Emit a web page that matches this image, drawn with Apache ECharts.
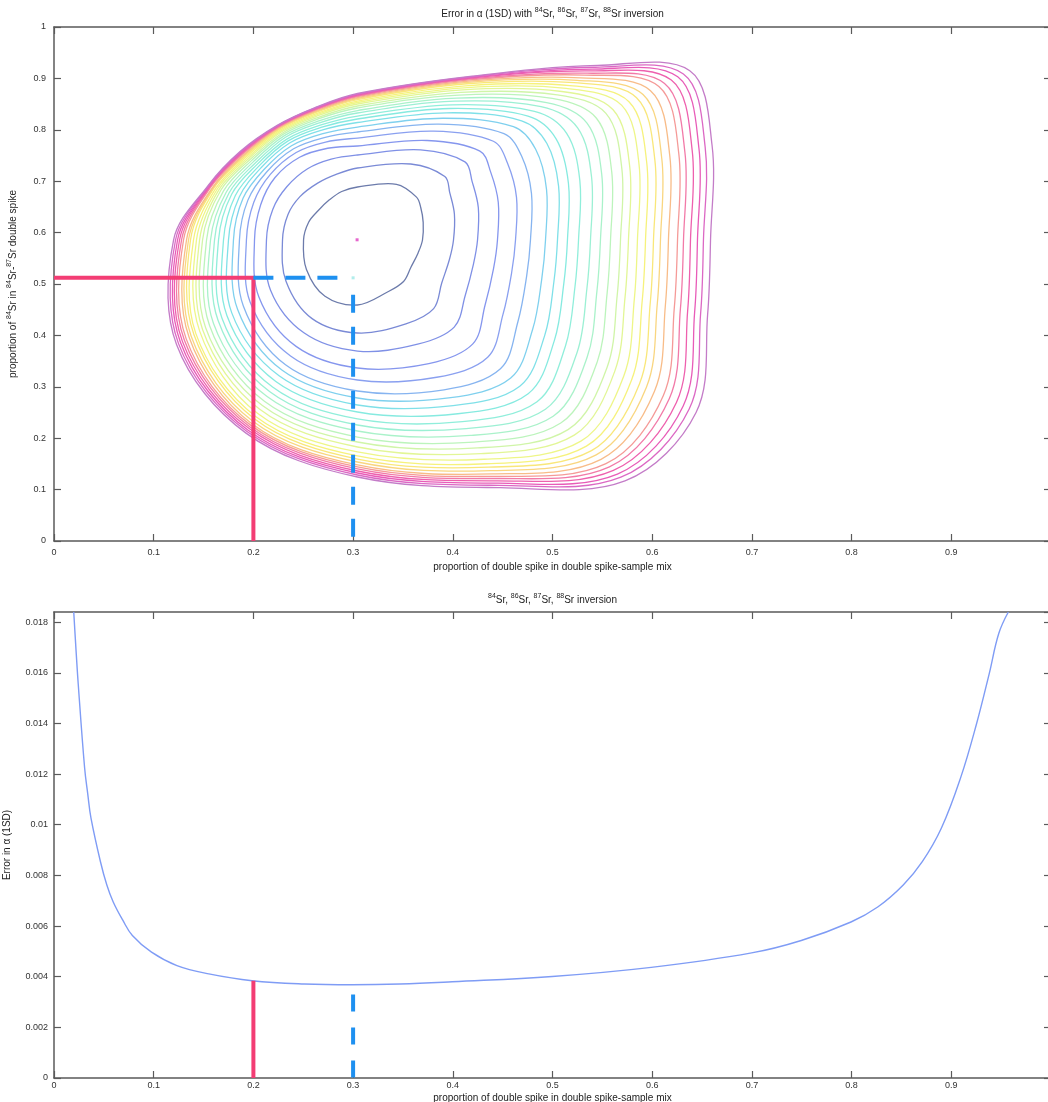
<!DOCTYPE html>
<html><head><meta charset="utf-8">
<script src="https://cdn.jsdelivr.net/npm/echarts@6/dist/echarts.min.js"></script>
<style>html,body{margin:0;padding:0;background:#fff}#c{width:1048px;height:1102px}</style>
</head><body><div id="c"></div>
<script>
// ================= DATA =================
// Top panel: contour lines of the error surface, sampled along rays from the minimum.
// Each array holds, for contour 1 (innermost) .. 26 (outermost), the coordinate where
// the contour crosses that ray (X arrays: x value, Y arrays: y value).
const surfaceMinimum = [0.304, 0.586];
const rayOrigin = [0.3044, 0.5856];
const ray000X = [0.3696,0.4007,0.4248,0.4448,0.4629,0.4779,0.4930,0.5050,0.5150,0.5261,0.5381,0.5481,0.5582,0.5682,0.5762,0.5852,0.5933,0.6013,0.6083,0.6163,0.6254,0.6314,0.6384,0.6454,0.6514,0.6585];
const ray015X = [0.3703,0.4016,0.4256,0.4456,0.4639,0.4789,0.4940,0.5061,0.5160,0.5274,0.5392,0.5494,0.5594,0.5696,0.5775,0.5868,0.5945,0.6027,0.6096,0.6177,0.6267,0.6328,0.6401,0.6469,0.6531,0.6600];
const ray027X = [0.3679,0.3970,0.4194,0.4380,0.4550,0.4691,0.4831,0.4944,0.5036,0.5142,0.5252,0.5346,0.5441,0.5536,0.5608,0.5695,0.5767,0.5843,0.5908,0.5983,0.6067,0.6124,0.6192,0.6256,0.6313,0.6377];
const ray036X = [0.3636,0.3920,0.4122,0.4272,0.4407,0.4513,0.4608,0.4690,0.4754,0.4819,0.4885,0.4941,0.4998,0.5048,0.5094,0.5137,0.5176,0.5216,0.5249,0.5283,0.5321,0.5347,0.5378,0.5403,0.5429,0.5454];
const ray055Y = [0.6940,0.7335,0.7609,0.7792,0.7975,0.8111,0.8225,0.8331,0.8414,0.8485,0.8557,0.8617,0.8676,0.8727,0.8777,0.8816,0.8856,0.8896,0.8923,0.8947,0.8971,0.8989,0.9008,0.9019,0.9032,0.9043];
const ray090Y = [0.6887,0.7257,0.7510,0.7685,0.7840,0.7957,0.8054,0.8142,0.8210,0.8268,0.8327,0.8375,0.8424,0.8463,0.8502,0.8531,0.8560,0.8589,0.8609,0.8628,0.8648,0.8661,0.8677,0.8687,0.8696,0.8706];
const ray108Y = [0.6800,0.7133,0.7429,0.7641,0.7762,0.7850,0.7926,0.7993,0.8045,0.8089,0.8134,0.8172,0.8211,0.8239,0.8270,0.8293,0.8315,0.8339,0.8354,0.8367,0.8383,0.8393,0.8406,0.8413,0.8420,0.8428];
const ray125Y = [0.6637,0.6963,0.7242,0.7465,0.7559,0.7631,0.7690,0.7743,0.7784,0.7819,0.7856,0.7886,0.7915,0.7939,0.7962,0.7980,0.7998,0.8017,0.8028,0.8039,0.8052,0.8058,0.8069,0.8074,0.8080,0.8087];
const ray143X = [0.2651,0.2467,0.2335,0.2215,0.2170,0.2135,0.2106,0.2079,0.2057,0.2037,0.2019,0.2001,0.1984,0.1969,0.1956,0.1944,0.1932,0.1922,0.1913,0.1906,0.1896,0.1890,0.1884,0.1877,0.1872,0.1866];
const ray160X = [0.2554,0.2346,0.2195,0.2073,0.2004,0.1945,0.1896,0.1858,0.1819,0.1782,0.1754,0.1727,0.1699,0.1673,0.1655,0.1638,0.1622,0.1605,0.1598,0.1591,0.1576,0.1569,0.1563,0.1556,0.1550,0.1545];
const ray180X = [0.2503,0.2292,0.2131,0.2011,0.1930,0.1860,0.1800,0.1750,0.1700,0.1650,0.1610,0.1570,0.1530,0.1490,0.1460,0.1429,0.1399,0.1369,0.1349,0.1329,0.1299,0.1279,0.1259,0.1239,0.1219,0.1199];
const ray210X = [0.2532,0.2327,0.2172,0.2055,0.1967,0.1899,0.1841,0.1782,0.1734,0.1685,0.1646,0.1599,0.1560,0.1521,0.1490,0.1461,0.1422,0.1403,0.1375,0.1355,0.1326,0.1307,0.1287,0.1268,0.1248,0.1229];
const ray240Y = [0.4761,0.4326,0.4050,0.3787,0.3600,0.3430,0.3320,0.3214,0.3105,0.2995,0.2903,0.2810,0.2719,0.2640,0.2562,0.2485,0.2424,0.2379,0.2330,0.2286,0.2254,0.2224,0.2192,0.2160,0.2131,0.2099];
const ray270Y = [0.4591,0.4047,0.3696,0.3366,0.3132,0.2918,0.2782,0.2646,0.2510,0.2374,0.2257,0.2140,0.2023,0.1926,0.1829,0.1732,0.1654,0.1595,0.1537,0.1479,0.1440,0.1401,0.1362,0.1323,0.1284,0.1245];
const ray300Y = [0.4845,0.4225,0.3829,0.3452,0.3186,0.2941,0.2785,0.2633,0.2476,0.2321,0.2188,0.2053,0.1925,0.1811,0.1700,0.1590,0.1503,0.1437,0.1369,0.1304,0.1258,0.1216,0.1171,0.1125,0.1083,0.1037];
const ray318X = [0.3506,0.3808,0.4014,0.4201,0.4350,0.4478,0.4581,0.4672,0.4756,0.4845,0.4929,0.5007,0.5083,0.5156,0.5218,0.5285,0.5340,0.5391,0.5438,0.5487,0.5536,0.5571,0.5611,0.5651,0.5686,0.5727];
const ray333X = [0.3580,0.3889,0.4126,0.4324,0.4504,0.4653,0.4801,0.4922,0.5019,0.5130,0.5248,0.5348,0.5448,0.5548,0.5625,0.5716,0.5794,0.5873,0.5942,0.6023,0.6111,0.6171,0.6243,0.6311,0.6371,0.6440];
const ray348X = [0.3652,0.3966,0.4206,0.4408,0.4590,0.4741,0.4892,0.5014,0.5113,0.5226,0.5345,0.5446,0.5548,0.5649,0.5728,0.5821,0.5900,0.5981,0.6051,0.6132,0.6222,0.6283,0.6356,0.6426,0.6486,0.6556];

// Chosen / optimal mixture markers
const chosenMix = [0.2];          // red
const optimalMix = [0.3];         // blue dashed
const spikeProportion = [0.512];  // horizontal guide in top panel
const optimalGuideEndX = [0.288];
const optimalGuideStartY = [0.479];

// Bottom panel: error curve
const curveX = [0.0198,0.0217,0.0243,0.0307,0.0339,0.0371,0.0466,0.053,0.0594,0.069,0.0786,0.0978,0.1233,0.1553,0.1987,0.2511,0.299,0.347,0.3994,0.4997,0.599,0.6997,0.7495,0.7994,0.8262,0.8518,0.8709,0.8901,0.9093,0.9252,0.938,0.9476,0.9572];
const curveY = [0.0184,0.01715,0.01556,0.01225,0.0112,0.01026,0.00854,0.00762,0.00695,0.00623,0.00563,0.00497,0.00444,0.00411,0.00384,0.00371,0.00368,0.00371,0.0038,0.00401,0.00437,0.00494,0.00543,0.00616,0.00675,0.00762,0.00854,0.00987,0.01185,0.01397,0.01596,0.01755,0.0184];
const errorAtChosen = [0.00384];
const errorGuideTopOptimal = [0.0033];

// Axis ticks
const topYMax = 1, topYStep = 0.1;
const botYMax = 0.0184, botYStep = 0.002;
const xMax = 1, xStep = 0.1;

// ================= BUILD =================
const contourColors = ['#6c7bab','#7a8ad6','#7f90e6','#8596ee','#8aa0f0','#86b4f0','#7fd0ee','#7fe0e8','#86eae0','#90eedb','#9cf0d4','#aaf2ca','#bcf4bc','#d0f5a8','#e2f696','#eef688','#f6f27c','#f9e77a','#f9d680','#f8bc88','#f59a98','#f27aa8','#ee60ae','#e85cb8','#dc68c4','#c47cc8'];

// sampling rays (construction geometry): coordinate stored + data-space slope
const rays = [
  {v: ray000X, c:'x', m: 0},
  {v: ray015X, c:'x', m: 0.5197},
  {v: ray027X, c:'x', m: 0.9883},
  {v: ray036X, c:'x', m: 1.4092},
  {v: ray055Y, c:'y', m: 2.7702},
  {v: ray090Y, c:'v'},
  {v: ray108Y, c:'y', m: -5.9698},
  {v: ray125Y, c:'y', m: -2.7702},
  {v: ray143X, c:'x', m: -1.4617},
  {v: ray160X, c:'x', m: -0.7060},
  {v: ray180X, c:'x', m: 0},
  {v: ray210X, c:'x', m: 1.1199},
  {v: ray240Y, c:'y', m: 3.3597},
  {v: ray270Y, c:'v'},
  {v: ray300Y, c:'y', m: -3.3597},
  {v: ray318X, c:'x', m: -1.7465},
  {v: ray333X, c:'x', m: -0.9883},
  {v: ray348X, c:'x', m: -0.4123}
];
function contourPoints(k) {
  return rays.map(r => {
    const val = r.v[k];
    if (r.c === 'v') return [rayOrigin[0], val];
    if (r.c === 'x') return [val, rayOrigin[1] + r.m * (val - rayOrigin[0])];
    return [rayOrigin[0] + (val - rayOrigin[1]) / r.m, val];
  });
}

const FONT = '"Liberation Sans", Arial, sans-serif';
const AX = '#5a5a5a';
const sup = { s: { fontSize: 7, lineHeight: 8, verticalAlign: 'top', fontFamily: FONT, color: '#222' } };

function baseAxis(o) {
  return Object.assign({
    type: 'value',
    axisLine: { show: true, onZero: false, lineStyle: { color: AX, width: 1.5 } },
    axisTick: { show: true, inside: true, length: 7, lineStyle: { color: AX, width: 1.2 } },
    splitLine: { show: false },
    axisLabel: { color: '#333', fontSize: 9, fontFamily: FONT, margin: 6 },
    nameTextStyle: { color: '#222', fontSize: 10, fontFamily: FONT, lineHeight: 14, rich: sup }
  }, o);
}
const xName = 'proportion of double spike in double spike-sample mix';

const series = [];
for (let k = 0; k < contourColors.length; k++) {
  const pts = contourPoints(k);
  const col = contourColors[k];
  series.push({
    type: 'custom', xAxisIndex: 0, yAxisIndex: 0, silent: true, z: 2,
    data: pts,
    renderItem: function (params, api) {
      if (params.dataIndex !== 0) return null;
      const p = pts.map(d => api.coord(d));
      return { type: 'polygon', shape: { points: p, smooth: 0.35 },
        style: { fill: 'none', stroke: col, lineWidth: 1.3 } };
    }
  });
}
// top panel guides
series.push({ type: 'line', xAxisIndex: 0, yAxisIndex: 0, symbol: 'none', z: 5,
  data: [[0, spikeProportion[0]], [chosenMix[0], spikeProportion[0]], [chosenMix[0], 0]],
  lineStyle: { color: '#f33d74', width: 4, join: 'miter' } });
series.push({ type: 'line', xAxisIndex: 0, yAxisIndex: 0, symbol: 'none', z: 5,
  data: [[chosenMix[0], spikeProportion[0]], [optimalGuideEndX[0], spikeProportion[0]]],
  lineStyle: { color: '#1e90f0', width: 4, type: [20, 12], cap: 'butt' } });
series.push({ type: 'line', xAxisIndex: 0, yAxisIndex: 0, symbol: 'none', z: 5,
  data: [[optimalMix[0], optimalGuideStartY[0]], [optimalMix[0], 0]],
  lineStyle: { color: '#1e90f0', width: 4, type: [18, 14], cap: 'butt' } });
series.push({ type: 'scatter', xAxisIndex: 0, yAxisIndex: 0, symbol: 'rect', symbolSize: 3, z: 6,
  data: [surfaceMinimum], itemStyle: { color: '#e040c0' } });
series.push({ type: 'scatter', xAxisIndex: 0, yAxisIndex: 0, symbol: 'rect', symbolSize: 3, z: 6,
  data: [[optimalMix[0], spikeProportion[0]]], itemStyle: { color: '#9ee8e6' } });
// bottom panel
series.push({ type: 'line', xAxisIndex: 2, yAxisIndex: 2, symbol: 'none', smooth: 0.4, z: 3,
  data: curveX.map((x, i) => [x, curveY[i]]),
  lineStyle: { color: '#7f9cf5', width: 1.4 } });
series.push({ type: 'line', xAxisIndex: 2, yAxisIndex: 2, symbol: 'none', z: 5,
  data: [[chosenMix[0], errorAtChosen[0]], [chosenMix[0], 0]],
  lineStyle: { color: '#f33d74', width: 4 } });
series.push({ type: 'line', xAxisIndex: 2, yAxisIndex: 2, symbol: 'none', z: 5,
  data: [[optimalMix[0], errorGuideTopOptimal[0]], [optimalMix[0], 0]],
  lineStyle: { color: '#1e90f0', width: 4, type: [17, 16], cap: 'butt' } });

const option = {
  animation: false,
  backgroundColor: '#fff',
  grid: [
    { left: 54, top: 27, width: 997, height: 514, show: false, containLabel: false, outerBoundsMode: 'none' },
    { left: 54, top: 612, width: 997, height: 466, show: false, containLabel: false, outerBoundsMode: 'none' }
  ],
  xAxis: [
    baseAxis({ gridIndex: 0, position: 'bottom', min: 0, max: xMax, interval: xStep,
      axisLabel: { color: '#333', fontSize: 9, fontFamily: FONT, margin: 7, showMaxLabel: false },
      name: xName, nameLocation: 'middle', nameGap: 19 }),
    baseAxis({ gridIndex: 0, position: 'top', min: 0, max: xMax, interval: xStep,
      axisLabel: { show: false },
      name: 'Error in α (1SD) with {s|84}Sr, {s|86}Sr, {s|87}Sr, {s|88}Sr inversion', nameLocation: 'middle', nameGap: 6 }),
    baseAxis({ gridIndex: 1, position: 'bottom', min: 0, max: xMax, interval: xStep,
      axisLabel: { color: '#333', fontSize: 9, fontFamily: FONT, margin: 3, showMaxLabel: false },
      name: xName, nameLocation: 'middle', nameGap: 9 }),
    baseAxis({ gridIndex: 1, position: 'top', min: 0, max: xMax, interval: xStep,
      axisLabel: { show: false },
      name: '{s|84}Sr, {s|86}Sr, {s|87}Sr, {s|88}Sr inversion', nameLocation: 'middle', nameGap: 5 })
  ],
  yAxis: [
    baseAxis({ gridIndex: 0, position: 'left', min: 0, max: topYMax, interval: topYStep,
      axisLabel: { color: '#333', fontSize: 9, fontFamily: FONT, margin: 8 },
      name: 'proportion of {s|84}Sr in {s|84}Sr-{s|87}Sr double spike', nameLocation: 'middle', nameGap: 34 }),
    baseAxis({ gridIndex: 0, position: 'right', min: 0, max: topYMax, interval: topYStep,
      axisLabel: { show: false } }),
    baseAxis({ gridIndex: 1, position: 'left', min: 0, max: botYMax, interval: botYStep,
      axisLabel: { color: '#333', fontSize: 9, fontFamily: FONT, margin: 6, showMaxLabel: false },
      name: 'Error in α (1SD)', nameLocation: 'middle', nameGap: 33 }),
    baseAxis({ gridIndex: 1, position: 'right', min: 0, max: botYMax, interval: botYStep,
      axisLabel: { show: false } })
  ],
  series: series
};
const chart = echarts.init(document.getElementById('c'));
chart.setOption(option);
</script>
</body></html>
